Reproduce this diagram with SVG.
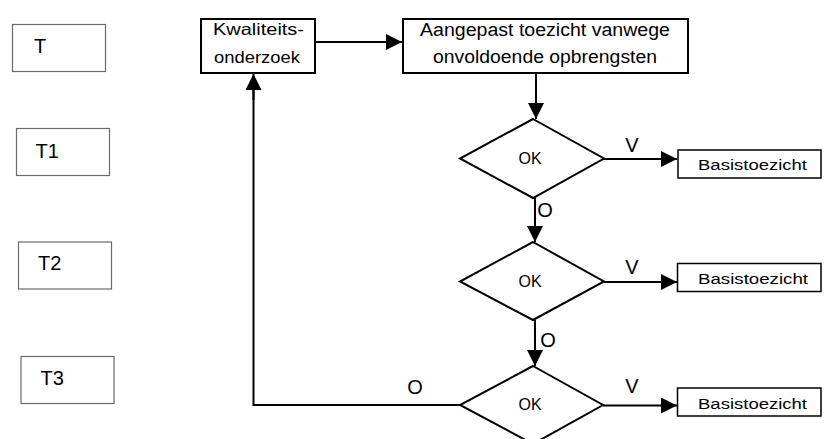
<svg xmlns="http://www.w3.org/2000/svg" width="824" height="439" viewBox="0 0 824 439">
<defs>
<marker id="ah" markerUnits="userSpaceOnUse" markerWidth="16" markerHeight="16" refX="16" refY="8" orient="auto">
<path d="M0,0 L16,8 L0,16 z" fill="#000"/>
</marker>
<style>
.t{font-family:"Liberation Sans",Arial,sans-serif;fill:#000}
.tbox{fill:#fff;stroke:#6a6a6a;stroke-width:1.2}
.box{fill:#fff;stroke:#000;stroke-width:2}
.bbox{fill:#fff;stroke:#000;stroke-width:1.5}
.dia{fill:#fff;stroke:#000;stroke-width:2}
.ln{fill:none;stroke:#000;stroke-width:2}
.arr{fill:none;stroke:#000;stroke-width:2;marker-end:url(#ah)}
</style>
</defs>
<rect width="824" height="439" fill="#fff"/>

<g id="T"><rect class="tbox" x="12.5" y="24.5" width="93" height="47"/><text class="t" x="34" y="52.5" font-size="20">T</text></g>
<g id="T1"><rect class="tbox" x="16.5" y="128.5" width="93" height="47"/><text class="t" x="35.5" y="157.5" font-size="20">T1</text></g>
<g id="T2"><rect class="tbox" x="18.5" y="242" width="93" height="47"/><text class="t" x="38" y="270" font-size="20">T2</text></g>
<g id="T3"><rect class="tbox" x="21" y="356.5" width="93" height="47"/><text class="t" x="40.5" y="385" font-size="20">T3</text></g>

<g id="connectors">
<line class="arr" x1="316" y1="42" x2="402" y2="42"/>
<line class="arr" x1="536" y1="74" x2="536" y2="119"/>
<line class="arr" x1="535" y1="198" x2="535" y2="242"/>
<line class="arr" x1="535" y1="320" x2="535" y2="366"/>
<line class="arr" x1="604" y1="159" x2="677" y2="159"/>
<line class="arr" x1="604" y1="282" x2="677" y2="282"/>
<line class="arr" x1="603" y1="405.5" x2="677" y2="405.5"/>
<polyline class="ln" points="460,405 253.5,405 253.5,90"/>
<line class="arr" x1="253.5" y1="100" x2="253.5" y2="74"/>
<text class="t" x="632" y="152" font-size="20" text-anchor="middle">V</text>
<text class="t" x="632" y="274" font-size="20" text-anchor="middle">V</text>
<text class="t" x="632" y="393" font-size="20" text-anchor="middle">V</text>
<text class="t" x="545" y="217" font-size="20" text-anchor="middle">O</text>
<text class="t" x="548" y="347" font-size="20" text-anchor="middle">O</text>
<text class="t" x="415" y="394" font-size="20" text-anchor="middle">O</text>
</g>

<g id="kwaliteitsonderzoek"><rect class="box" x="201" y="19" width="114" height="54"/>
<text class="t" x="258.5" y="35" font-size="16.5" text-anchor="middle" textLength="91" lengthAdjust="spacingAndGlyphs">Kwaliteits-</text>
<text class="t" x="257" y="62.5" font-size="16.5" text-anchor="middle" textLength="86" lengthAdjust="spacingAndGlyphs">onderzoek</text></g>

<g id="aangepast"><rect class="box" x="403" y="19" width="285" height="54"/>
<text class="t" x="545" y="36" font-size="18" text-anchor="middle" textLength="250" lengthAdjust="spacingAndGlyphs">Aangepast toezicht vanwege</text>
<text class="t" x="545" y="63" font-size="18" text-anchor="middle" textLength="224" lengthAdjust="spacingAndGlyphs">onvoldoende opbrengsten</text></g>

<g id="ok1"><polygon class="dia" points="533,119 604,158.5 533,198 460,158.5"/><text class="t" x="530" y="164" font-size="16" text-anchor="middle">OK</text></g>
<g id="ok2"><polygon class="dia" points="533,242 604,281.5 533,320 460,281.5"/><text class="t" x="530" y="287" font-size="16" text-anchor="middle">OK</text></g>
<g id="ok3"><polygon class="dia" points="533,366 603,405 533,444 460,405"/><text class="t" x="530" y="410" font-size="16" text-anchor="middle">OK</text></g>

<g id="basis1"><rect class="bbox" x="678" y="150" width="143" height="28"/><text class="t" x="698" y="169.5" font-size="15.5" textLength="109" lengthAdjust="spacingAndGlyphs">Basistoezicht</text></g>
<g id="basis2"><rect class="bbox" x="677.5" y="263.5" width="143.5" height="28"/><text class="t" x="698" y="284" font-size="15.5" textLength="110" lengthAdjust="spacingAndGlyphs">Basistoezicht</text></g>
<g id="basis3"><rect class="bbox" x="677.5" y="388" width="143.5" height="28"/><text class="t" x="698" y="408.5" font-size="15.5" textLength="109" lengthAdjust="spacingAndGlyphs">Basistoezicht</text></g>
</svg>
